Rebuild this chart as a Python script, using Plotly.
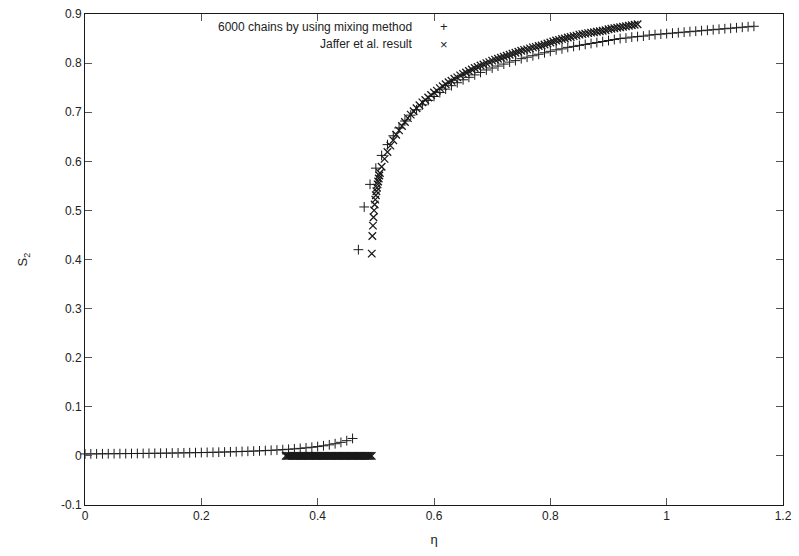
import plotly.graph_objects as go

# ---------------- data ----------------
# 6000 chains by using mixing method (+)
plus_low_eta = [round(i * 0.01, 2) for i in range(0, 47)]          # 0.00 .. 0.46
plus_low_s = [0.0040, 0.0041, 0.0042, 0.0043, 0.0044, 0.0045, 0.0046, 0.0047, 0.0048, 0.0049,
              0.0050, 0.0052, 0.0053, 0.0055, 0.0056, 0.0058, 0.0060, 0.0062, 0.0064, 0.0066,
              0.0068, 0.0071, 0.0073, 0.0076, 0.0079, 0.0082, 0.0086, 0.0090, 0.0094, 0.0098,
              0.0103, 0.0108, 0.0114, 0.0120, 0.0127, 0.0135, 0.0143, 0.0153, 0.0164, 0.0176,
              0.0190, 0.0206, 0.0225, 0.0248, 0.0276, 0.0310, 0.0355]

plus_high_eta = [round(0.47 + i * 0.01, 2) for i in range(0, 69)]  # 0.47 .. 1.15
plus_high_s = [0.420, 0.507, 0.553, 0.586, 0.612, 0.634, 0.652, 0.668, 0.682, 0.694,
               0.705, 0.715, 0.724, 0.732, 0.740, 0.747, 0.754, 0.760, 0.766, 0.771,
               0.776, 0.781, 0.786, 0.790, 0.794, 0.798, 0.802, 0.805, 0.809, 0.812,
               0.815, 0.818, 0.821, 0.824, 0.827, 0.829, 0.832, 0.834, 0.836, 0.838,
               0.840, 0.842, 0.844, 0.846, 0.848, 0.850, 0.851, 0.853, 0.854, 0.855,
               0.857, 0.858, 0.859, 0.860, 0.861, 0.862, 0.863, 0.864, 0.865, 0.866,
               0.867, 0.868, 0.869, 0.870, 0.871, 0.872, 0.873, 0.874, 0.875]

# Jaffer et al. result (x)
jaffer_low_eta = [round(0.345 + i * 0.002, 3) for i in range(0, 75)]   # 0.345 .. 0.493
jaffer_low_s = [0.0, 0.0, 0.0, 0.0, 0.0, 0.0, 0.0, 0.0, 0.0, 0.0, 0.0, 0.0, 0.0, 0.0, 0.0,
                0.0, 0.0, 0.0, 0.0, 0.0, 0.0, 0.0, 0.0, 0.0, 0.0, 0.0, 0.0, 0.0, 0.0, 0.0,
                0.0, 0.0, 0.0, 0.0, 0.0, 0.0, 0.0, 0.0, 0.0, 0.0, 0.0, 0.0, 0.0, 0.0, 0.0,
                0.0, 0.0, 0.0, 0.0, 0.0, 0.0, 0.0, 0.0, 0.0, 0.0, 0.0, 0.0, 0.0, 0.0, 0.0,
                0.0, 0.0, 0.0, 0.0, 0.0, 0.0, 0.0, 0.0, 0.0, 0.0, 0.0, 0.0, 0.0, 0.0, 0.0]

jaffer_high_eta = ([0.493, 0.494, 0.495, 0.496, 0.497, 0.498, 0.499, 0.500,
                    0.501, 0.502, 0.503, 0.504, 0.505, 0.506, 0.507]
                   + [round(0.510 + i * 0.005, 3) for i in range(0, 89)])  # .. 0.950
jaffer_high_s = [0.412, 0.448, 0.469, 0.486, 0.500, 0.512, 0.522, 0.531,
                 0.539, 0.546, 0.553, 0.559, 0.565, 0.571, 0.576,
                 0.589, 0.605, 0.619, 0.632, 0.643, 0.654, 0.663, 0.672, 0.680, 0.688,
                 0.695, 0.702, 0.708, 0.714, 0.720, 0.725, 0.730, 0.735, 0.740, 0.744,
                 0.749, 0.753, 0.757, 0.761, 0.764, 0.768, 0.771, 0.775, 0.778, 0.781,
                 0.784, 0.787, 0.790, 0.792, 0.795, 0.797, 0.800, 0.802, 0.805, 0.807,
                 0.809, 0.811, 0.813, 0.815, 0.817, 0.819, 0.821, 0.823, 0.825, 0.827,
                 0.828, 0.830, 0.832, 0.833, 0.835, 0.836, 0.838, 0.840,
                 0.842, 0.844, 0.846, 0.847, 0.849, 0.850, 0.852, 0.853, 0.855, 0.856,
                 0.858, 0.859, 0.860, 0.861, 0.862, 0.863, 0.864, 0.865, 0.866, 0.867,
                 0.869, 0.870, 0.871, 0.872, 0.873, 0.874, 0.875, 0.876, 0.877, 0.878,
                 0.879]

legend_labels = ["6000 chains by using mixing method", "Jaffer et al. result"]
x_ticks = [0, 0.2, 0.4, 0.6, 0.8, 1.0, 1.2]
x_tick_text = ["0", "0.2", "0.4", "0.6", "0.8", "1", "1.2"]
y_ticks = [-0.1, 0, 0.1, 0.2, 0.3, 0.4, 0.5, 0.6, 0.7, 0.8, 0.9]
y_tick_text = ["-0.1", "0", "0.1", "0.2", "0.3", "0.4", "0.5", "0.6", "0.7", "0.8", "0.9"]

# ---------------- figure ----------------
FONT = "Liberation Sans, Arial, Helvetica, sans-serif"
INK = "#1a1a1a"
TXT = "#222222"

plus_marker = dict(symbol="cross-thin", size=7, line=dict(color=INK, width=1), color=INK)
x_marker = dict(symbol="x-thin", size=7.5, line=dict(color=INK, width=1.3), color=INK)

fig = go.Figure()
fig.add_trace(go.Scatter(x=plus_low_eta + plus_high_eta, y=plus_low_s + plus_high_s,
                         mode="markers", marker=plus_marker, name=legend_labels[0],
                         cliponaxis=False, showlegend=False))
fig.add_trace(go.Scatter(x=jaffer_low_eta + jaffer_high_eta, y=jaffer_low_s + jaffer_high_s,
                         mode="markers", marker=x_marker, name=legend_labels[1],
                         cliponaxis=False, showlegend=False))

axis_common = dict(showgrid=False, zeroline=False, showline=True, linecolor=INK, linewidth=1,
                   mirror="allticks", ticks="inside", ticklen=7, tickcolor="#555555",
                   tickwidth=1, tickfont=dict(family=FONT, size=12, color=TXT))

fig.update_xaxes(range=[0, 1.2], tickvals=x_ticks, ticktext=x_tick_text,
                 title=dict(text="η", font=dict(family=FONT, size=13, color=TXT), standoff=12),
                 **axis_common)
fig.update_yaxes(range=[-0.1, 0.9], tickvals=y_ticks, ticktext=y_tick_text,
                 title=dict(text="S<sub>2</sub>", font=dict(family=FONT, size=13, color=TXT), standoff=30),
                 **axis_common)

# legend (gnuplot style: right-aligned text, key symbol to the right)
leg_y = [0.974, 0.938]
leg_sym = ["+", "×"]
for lbl, yy, sym in zip(legend_labels, leg_y, leg_sym):
    fig.add_annotation(xref="paper", yref="paper", x=0.471, y=yy, text=lbl, showarrow=False,
                       xanchor="right", yanchor="middle",
                       font=dict(family=FONT, size=12, color=TXT))
    fig.add_annotation(xref="paper", yref="paper", x=0.515, y=yy, text=sym, showarrow=False,
                       xanchor="center", yanchor="middle",
                       font=dict(family=FONT, size=13, color=TXT))

fig.update_layout(width=799, height=556, margin=dict(l=85, r=15, t=7, b=51),
                  paper_bgcolor="white", plot_bgcolor="white", showlegend=False,
                  font=dict(family=FONT))

fig.write_html("out.html")
